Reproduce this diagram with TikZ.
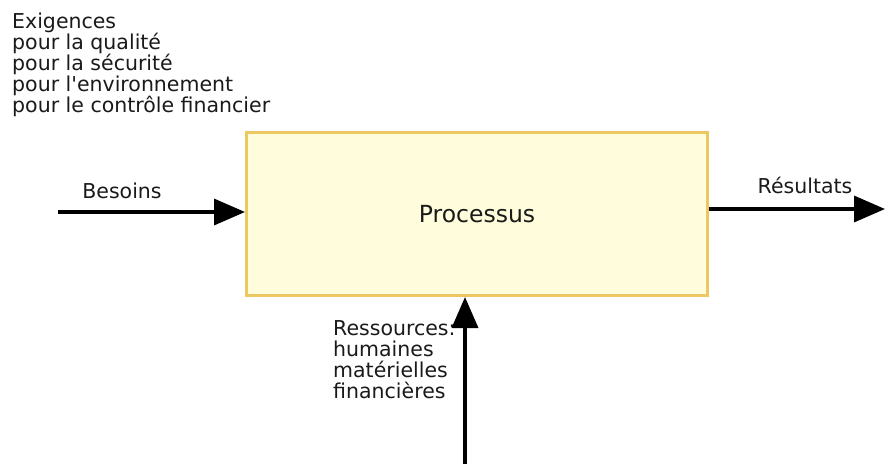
\documentclass[tikz,border=0pt]{standalone}
\usepackage{fontspec}
\setmainfont{DejaVu Sans}
\usetikzlibrary{arrows.meta}
\definecolor{boxfill}{HTML}{FFFDDB}
\definecolor{boxline}{HTML}{EDC862}
\definecolor{ink}{HTML}{1A1A1A}
\newcommand{\straightquote}{\XeTeXglyph\XeTeXcharglyph"0027\relax}
\begin{document}
\begin{tikzpicture}[x=1pt,y=-1pt,
    flow/.style={draw=black,line width=3.5pt,-{Triangle[length=31pt,width=26pt]}},
    lbl/.style={inner sep=0pt,text=ink,font=\fontsize{20.5}{21}\selectfont}]

      \useasboundingbox (0,0) rectangle (885,464);

      \node (proc) at (477,214) [draw=boxline,fill=boxfill,line width=3pt,
        minimum width=461pt,minimum height=163pt,inner sep=0pt,
        text=ink,font=\fontsize{23.5}{26}\selectfont] {Processus};

      \begin{scope}[every node/.style={lbl}]
        \node (exig) at (12,112)  [anchor=base west,align=left]
          {Exigences\\pour la qualité\\pour la sécurité\\pour l\straightquote environnement\\pour le contrôle financier};
        \node (bes)  at (122,198) [anchor=base] {Besoins};
        \node (resu) at (805,193) [anchor=base] {Résultats};
        \node (ress) at (333,398) [anchor=base west,align=left]
          {Ressources:\\humaines\\matérielles\\financières};
      \end{scope}

      \coordinate (in)  at (58,212);
      \coordinate (out) at (885,209);
      \coordinate (src) at (465,464);

      \draw[flow] (in) -- (in -| proc.west);
      \draw[flow] (out -| proc.east) -- (out);
      \draw[flow] (src) -- (src |- proc.south);

    \end{tikzpicture}
\end{document}
